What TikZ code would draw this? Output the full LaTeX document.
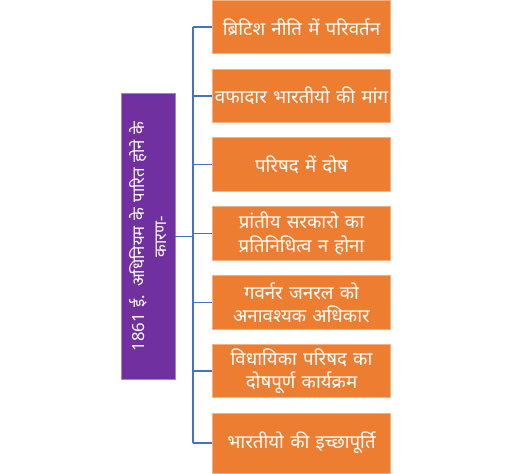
\documentclass[tikz,border=0pt]{standalone}
\usepackage{fontspec}
\newfontfamily\hindifont[Script=Devanagari,WordSpace=1.7]{Noto Sans}
\usetikzlibrary{positioning}

\begin{document}
\begin{tikzpicture}[x=0.75pt,y=-0.75pt]
	\tikzstyle{every node}=[font=\hindifont\fontsize{14}{17.5}\selectfont]
	\tikzstyle{karanbox}=[fill=akaran, draw=akaran!60!white, line width=0.6pt, text=white, minimum width=215pt, minimum height=40.5pt, text width=212pt, align=center, inner sep=1pt, rotate=90, font=\hindifont\fontsize{12.5}{17}\selectfont]
	\tikzstyle{orangebox}=[fill=aorange, draw=aorange!60!white, line width=0.6pt, text=white, minimum width=134pt, minimum height=40pt, text width=133pt, align=center, inner sep=0.5pt]
	\tikzstyle{bus}=[draw=ablue, line width=0.8pt]
	
	\definecolor{akaran}{RGB}{112,48,160}
	\definecolor{aorange}{RGB}{237,125,49}
	\definecolor{ablue}{RGB}{68,114,196}
	%% reasons box
	
	\useasboundingbox (0,0) rectangle (512,474);
	
	\node [karanbox]  (karan) at (148,236.5)  {1861 ई. अधिनियम के पारित होने के\\कारण-};
	
	\node [orangebox]  (britishniti) at (301.5,27.0)  {ब्रिटिश नीति में परिवर्तन};
	\node [orangebox]  (vafadar) at (301.5,96.0)  {वफादार भारतीयो की मांग};
	\node [orangebox]  (parishad) at (301.5,164.5)  {परिषद में दोष};
	\node [orangebox]  (prantiya) at (301.5,233.5)  {प्रांतीय सरकारो का\\प्रतिनिधित्व न होना};
	\node [orangebox]  (governor) at (301.5,302.5)  {गवर्नर जनरल को\\अनावश्यक अधिकार};
	\node [orangebox]  (vidhayika) at (301.5,371.0)  {विधायिका परिषद का\\दोषपूर्ण कार्यक्रम};
	\node [orangebox, minimum height=45pt]  (ichchha) at (301.5,443.0)  {भारतीयो की इच्छापूर्ति};
	
	\draw [bus]  (karan.south) -- (193,236.5) coordinate (hub);
	\draw [bus]  (hub |- britishniti.west) -- (hub |- ichchha.west);
	\draw [bus]  (hub |- britishniti.west) -- (britishniti.west);
	\draw [bus]  (hub |- vafadar.west) -- (vafadar.west);
	\draw [bus]  (hub |- parishad.west) -- (parishad.west);
	\draw [bus]  (hub |- prantiya.west) -- (prantiya.west);
	\draw [bus]  (hub |- governor.west) -- (governor.west);
	\draw [bus]  (hub |- vidhayika.west) -- (vidhayika.west);
	\draw [bus]  (hub |- ichchha.west) -- (ichchha.west);

\end{tikzpicture}
\end{document}
